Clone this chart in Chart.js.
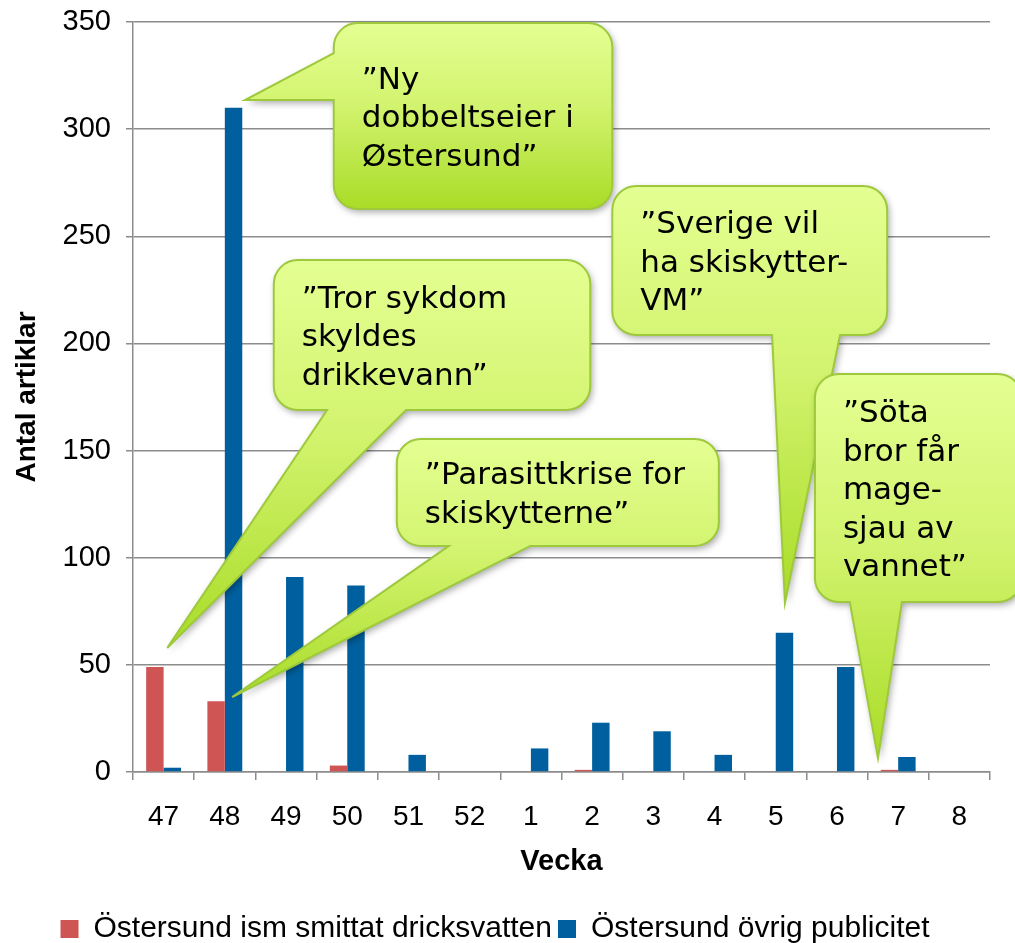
<!DOCTYPE html>
<html>
<head>
<meta charset="utf-8">
<title>Antal artiklar per vecka</title>
<script src="https://cdn.jsdelivr.net/npm/chart.js@4.4.1/dist/chart.umd.min.js"></script>
<style>
  html, body { margin: 0; padding: 0; background: #fff; }
  #wrap { width: 1015px; height: 943px; }
</style>
</head>
<body>
<div id="wrap"><canvas id="chart"></canvas></div>
<script>
// Data
const weeks = ['47', '48', '49', '50', '51', '52', '1', '2', '3', '4', '5', '6', '7', '8'];
const smittatVatten = [49, 33, 0, 3, 0, 0, 0, 1, 0, 0, 0, 0, 1, 0];
const ovrigPublicitet = [2, 310, 91, 87, 8, 0, 11, 23, 19, 8, 65, 49, 7, 0];
const seriesNames = ['Östersund ism smittat dricksvatten', 'Östersund övrig publicitet'];
const yMin = 0, yMax = 350, yStep = 50;

// Speech bubbles, placed in data units (category index, value)
const callouts = [
  { lines: ['”Ny', 'dobbeltseier i', 'Østersund”'],
    box: [2.78, 349.5, 7.33, 262.7], tail: { side: 'left', from: 335.5, to: 313.6 }, tip: [1.33, 313.6] },
  { lines: ['”Tror sykdom', 'skyldes', 'drikkevann”'],
    box: [1.80, 238.9, 6.97, 168.9], tail: { side: 'bottom', from: 2.67, to: 3.96 }, tip: [0.06, 57.9] },
  { lines: ['”Parasittkrise for', 'skiskytterne”'],
    box: [3.81, 155.4, 9.07, 105.5], tail: { side: 'bottom', from: 4.66, to: 5.99 }, tip: [1.12, 35.0] },
  { lines: ['”Sverige vil', 'ha skiskytter-', 'VM”'],
    box: [7.33, 273.5, 11.82, 203.9], tail: { side: 'bottom', from: 9.94, to: 11.05 }, tip: [10.15, 78.9] },
  { lines: ['”Söta', 'bror får', 'mage-', 'sjau av', 'vannet”'],
    box: [10.64, 185.7, 14.02, 79.3], tail: { side: 'bottom', from: 11.21, to: 12.06 }, tip: [11.67, 6.5] }
];

Chart.defaults.font.family = '"Liberation Sans", Arial, sans-serif';
Chart.defaults.color = '#000';

function drawCallout(ctx, xs, ys, c) {
  const x0 = xs.getPixelForValue(c.box[0]), x1 = xs.getPixelForValue(c.box[2]);
  const y0 = ys.getPixelForValue(c.box[1]), y1 = ys.getPixelForValue(c.box[3]);
  const tx = xs.getPixelForValue(c.tip[0]), ty = ys.getPixelForValue(c.tip[1]);
  const t = c.tail;
  const onLeft = t.side === 'left';
  const a = onLeft ? ys.getPixelForValue(t.from) : xs.getPixelForValue(t.from);
  const b = onLeft ? ys.getPixelForValue(t.to) : xs.getPixelForValue(t.to);
  const r = 24;

  ctx.save();
  ctx.beginPath();
  ctx.moveTo(x0 + r, y0);
  ctx.arcTo(x1, y0, x1, y1, r);
  ctx.arcTo(x1, y1, x0, y1, r);
  if (!onLeft) {
    ctx.lineTo(Math.max(a, b), y1);
    ctx.lineTo(tx, ty);
    ctx.lineTo(Math.min(a, b), y1);
  }
  ctx.arcTo(x0, y1, x0, y0, r);
  if (onLeft) {
    ctx.lineTo(x0, Math.max(a, b));
    ctx.lineTo(tx, ty);
    ctx.lineTo(x0, Math.min(a, b));
  }
  ctx.arcTo(x0, y0, x1, y0, r);
  ctx.closePath();

  const top = Math.min(y0, ty), bottom = Math.max(y1, ty);
  const grad = ctx.createLinearGradient(0, top, 0, bottom);
  grad.addColorStop(0, '#e4ff92');
  grad.addColorStop(0.45, '#d2f36e');
  grad.addColorStop(1, '#a9dc27');
  ctx.fillStyle = grad;
  ctx.shadowColor = 'rgba(0,0,0,0.35)';
  ctx.shadowBlur = 7;
  ctx.shadowOffsetX = 2;
  ctx.shadowOffsetY = 3;
  ctx.fill();
  ctx.shadowColor = 'transparent';
  ctx.lineWidth = 2;
  ctx.strokeStyle = '#9ec93c';
  ctx.stroke();

  // text, centred vertically in the box
  ctx.fillStyle = '#000';
  ctx.font = '31px "DejaVu Sans", Verdana, sans-serif';
  ctx.textAlign = 'left';
  ctx.textBaseline = 'middle';
  const lh = 38.5;
  const cy = (y0 + y1) / 2 + 3;
  c.lines.forEach((line, i) => {
    ctx.fillText(line, x0 + 28, cy + (i - (c.lines.length - 1) / 2) * lh);
  });
  ctx.restore();
}

const calloutPlugin = {
  id: 'callouts',
  afterDatasetsDraw(chart) {
    const { ctx, scales } = chart;
    callouts.forEach(c => drawCallout(ctx, scales.x, scales.y, c));
  }
};

const gridColor = '#8c8c8c';

new Chart(document.getElementById('chart'), {
  type: 'bar',
  data: {
    labels: weeks,
    datasets: [
      { label: seriesNames[0], data: smittatVatten, backgroundColor: '#cf5555' },
      { label: seriesNames[1], data: ovrigPublicitet, backgroundColor: '#00609f' }
    ]
  },
  options: {
    responsive: true,
    maintainAspectRatio: false,
    animation: false,
    categoryPercentage: 0.57,
    barPercentage: 1.0,
    layout: { padding: { top: 22, right: 25, left: 0, bottom: -11 } },
    plugins: {
      tooltip: { enabled: false },
      legend: {
        position: 'bottom',
        labels: { boxWidth: 18, boxHeight: 18, padding: 6, font: { size: 30 }, color: '#000' }
      }
    },
    scales: {
      x: {
        grid: { drawOnChartArea: false, drawTicks: true, tickLength: 8, color: gridColor, lineWidth: 1.5 },
        border: { color: gridColor, width: 1.5 },
        ticks: { font: { size: 28 }, color: '#000', padding: 20, maxRotation: 0 },
        title: { display: true, text: 'Vecka', font: { size: 29, weight: 'bold' }, color: '#000', padding: { top: 0, bottom: 29 } },
        afterFit(scale) { scale.height = 136; }
      },
      y: {
        min: yMin,
        max: yMax,
        ticks: { stepSize: yStep, font: { size: 29, lineHeight: 0.4 }, color: '#000', padding: 15 },
        grid: { color: gridColor, lineWidth: 1.5, tickLength: 7 },
        border: { color: gridColor, width: 1.5 },
        title: { display: true, text: 'Antal artiklar', font: { size: 28, weight: 'bold' }, color: '#000', padding: { top: 10, bottom: 0 } },
        afterFit(scale) { scale.width = 133; }
      }
    }
  },
  plugins: [calloutPlugin]
});
</script>
</body>
</html>
